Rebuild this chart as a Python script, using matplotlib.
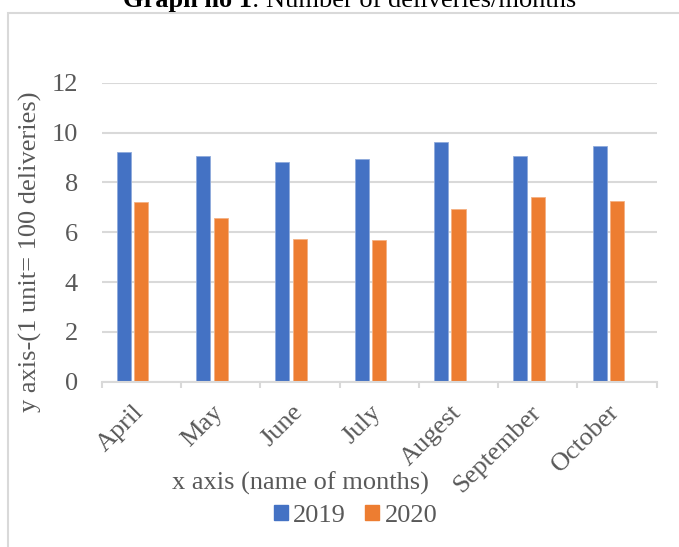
import matplotlib
matplotlib.use("Agg")
import matplotlib.pyplot as plt
from matplotlib.patches import Rectangle, Patch
from matplotlib import transforms
import numpy as np

# values
months = ["April", "May", "June", "July", "Augest", "September", "October"]
deliveries_2019 = [9.21, 9.06, 8.82, 8.94, 9.61, 9.05, 9.44]
deliveries_2020 = [7.22, 6.56, 5.74, 5.68, 6.94, 7.41, 7.26]
series_names = ["2019", "2020"]
y_ticks = [0, 2, 4, 6, 8, 10, 12]

BLUE = "#4472C4"
ORANGE = "#ED7D31"
TEXT = "#595959"
GRID = "#D9D9D9"
FS = 19

plt.rcParams["font.family"] = ["Liberation Serif", "DejaVu Serif"]

W, H = 679, 547
fig = plt.figure(figsize=(W / 100, H / 100), dpi=100)
ax = fig.add_axes([101.7 / W, 1 - 381.7 / H, 555 / W, 299 / H])

x = np.arange(len(months))
width = 0.177
ax.bar(x - 0.22, deliveries_2019, width, color=BLUE, edgecolor="#8FAADC", linewidth=0.6)
ax.bar(x, deliveries_2020, width, color=ORANGE, edgecolor="#F4B183", linewidth=0.6)

ax.set_xlim(-0.5, len(months) - 0.5)
ax.set_ylim(0, 12)
ax.set_yticks(y_ticks)
ax.yaxis.grid(True, color=GRID, linewidth=1.5)
ax.set_axisbelow(True)
for side in ["top", "right", "left"]:
    ax.spines[side].set_visible(False)
ax.spines["bottom"].set_color(GRID)
ax.spines["bottom"].set_linewidth(1.5)

ax.tick_params(axis="y", length=0, pad=17, labelsize=FS, labelcolor=TEXT)
ax.set_xticks(x)
ax.set_xticks(np.arange(len(months) + 1) - 0.5, minor=True)
ax.tick_params(axis="x", which="major", length=0, pad=14)
ax.tick_params(axis="x", which="minor", length=4, width=1.5, color=GRID, direction="out")
offset = transforms.ScaledTranslation(7 / 100, 0, fig.dpi_scale_trans)
ax.set_xticklabels(months, rotation=45, ha="right", fontsize=FS, color=TEXT)
for lbl in ax.get_xticklabels():
    lbl.set_transform(lbl.get_transform() + offset)

fig.text(30 / W, 1 - 252 / H, "y axis-(1 unit= 100 deliveries)", rotation=90,
         ha="center", va="center", fontsize=FS, color=TEXT)
fig.text(300 / W, 1 - 483 / H, "x axis (name of months)", ha="center", va="center",
         fontsize=FS, color=TEXT)

handles = [Patch(color=BLUE), Patch(color=ORANGE)]
fig.legend(handles, series_names, loc="center", bbox_to_anchor=(355.5 / W, 1 - 516 / H),
           ncol=2, frameon=False, fontsize=FS, labelcolor=TEXT, handlelength=0.53,
           handleheight=0.53, handletextpad=0.2, columnspacing=0.75, borderpad=0)

# title, partly cut off at the top edge
fig.text(252 / W, 1 - 7 / H, "Graph no 1", ha="right", va="baseline",
         fontsize=FS, fontweight="bold", color="black")
fig.text(252 / W, 1 - 7 / H, ": Number of deliveries/months", ha="left", va="baseline",
         fontsize=FS, color="black")

fig.add_artist(Rectangle((8 / W, -0.5), 1.5, 1.5 - 12.5 / H, transform=fig.transFigure,
                         fill=False, edgecolor=GRID, linewidth=1.5))

fig.savefig("out.png", dpi=100)
